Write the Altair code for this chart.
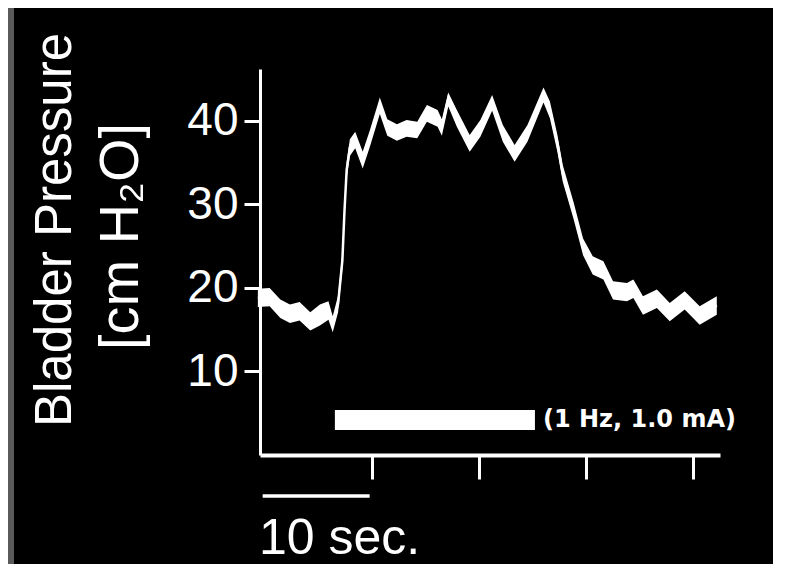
import altair as alt
import pandas as pd

# time (s) and bladder pressure band (cm H2O)
time_s = [-0.7, 0.4, 1.4, 2.3, 3.2, 4.2, 5.1, 5.9, 6.3, 6.8, 7.2, 7.4, 7.6, 7.9, 8.4,
          9.1, 9.8, 10.7, 11.4, 12.3, 13.2, 14.2, 15.1, 16.1, 16.5, 17.1, 17.9, 19.1,
          20.1, 21.2, 22.2, 23.3, 24.5, 26.0, 26.6, 27.3, 27.8, 28.8, 29.7, 30.6, 31.6,
          32.5, 33.8, 34.4, 35.3, 36.6, 37.8, 39.2, 40.6, 42.2]
pressure_mid = [18.8, 18.9, 17.5, 16.9, 17.2, 16.0, 16.8, 17.3, 15.6, 18.1, 23.3, 29.3,
                34.1, 36.8, 37.7, 35.3, 38.0, 41.9, 39.2, 38.6, 39.1, 38.9, 40.9, 40.3,
                39.2, 42.7, 40.3, 37.3, 39.1, 42.2, 38.5, 36.1, 38.5, 43.2, 41.3, 37.3,
                33.7, 29.3, 24.9, 22.7, 22.1, 19.7, 19.5, 19.9, 17.9, 18.7, 17.1, 18.5,
                16.7, 17.9]
pressure_hi = [19.9, 20.0, 18.6, 18.0, 18.3, 17.1, 18.0, 18.4, 16.6, 19.1, 24.3, 30.3,
               35.1, 37.8, 38.7, 36.3, 39.0, 42.8, 40.2, 39.6, 40.1, 39.9, 41.9, 41.3,
               40.2, 43.4, 41.3, 38.3, 40.1, 43.1, 39.5, 37.1, 39.5, 44.0, 42.3, 38.3,
               34.7, 30.3, 25.9, 23.8, 23.2, 20.8, 20.6, 21.0, 19.0, 19.8, 18.2, 19.6,
               17.8, 19.0]
pressure_lo = [17.7, 17.8, 16.4, 15.8, 16.1, 14.9, 15.5, 16.2, 14.7, 17.1, 22.3, 28.3,
               33.1, 35.8, 36.7, 34.3, 37.0, 40.8, 38.2, 37.6, 38.1, 37.9, 39.9, 39.3,
               38.2, 41.7, 39.3, 36.3, 38.1, 41.2, 37.5, 35.1, 37.5, 42.2, 40.3, 36.3,
               32.7, 28.3, 23.9, 21.6, 21.0, 18.6, 18.4, 18.8, 16.8, 17.6, 16.0, 17.4,
               15.6, 16.8]

y_ticks = [10, 20, 30, 40]
x_ticks = [10, 20, 30, 40]

stim_start, stim_end = 6.5, 25.2
stim_lo, stim_hi = 3.0, 5.4
stim_label = "(1 Hz, 1.0 mA)"
stim_label_t, stim_label_y = 25.95, 4.2

bar_start, bar_end, bar_y = -0.25, 9.75, -4.9
bar_label = "10 sec."
bar_label_t, bar_label_y = -0.6, -11.8

title1 = "Bladder Pressure"
title2 = "[cm H₂O]"

WHITE = "#ffffff"
FONT = "Liberation Sans"

df = pd.DataFrame({"t": time_s, "mid": pressure_mid, "hi": pressure_hi, "lo": pressure_lo})

xs = alt.Scale(domain=[-0.5, 42.5], nice=False, zero=False)
ys = alt.Scale(domain=[0, 46.2], nice=False, zero=False)

x_axis = alt.Axis(values=x_ticks, labels=False, title=None, grid=False,
                  domainColor=WHITE, domainWidth=4, tickColor=WHITE, tickWidth=3,
                  tickSize=24)
y_axis = alt.Axis(values=y_ticks, title=None, grid=False, domainColor=WHITE,
                  domainWidth=3, tickColor=WHITE, tickWidth=3, tickSize=16,
                  labelColor=WHITE, labelFontSize=46, labelFont=FONT, labelPadding=6)

band = alt.Chart(df).mark_area(color=WHITE, opacity=1).encode(
    x=alt.X("t:Q", scale=xs, axis=x_axis),
    y=alt.Y("lo:Q", scale=ys, axis=y_axis),
    y2="hi:Q",
)
line = alt.Chart(df).mark_line(color=WHITE, strokeWidth=2.5).encode(
    x=alt.X("t:Q", scale=xs),
    y=alt.Y("mid:Q", scale=ys),
)

stim_df = pd.DataFrame({"a": [stim_start], "b": [stim_end], "lo": [stim_lo], "hi": [stim_hi],
                        "lt": [stim_label_t], "ly": [stim_label_y], "label": [stim_label]})
stim = alt.Chart(stim_df).mark_rect(color=WHITE).encode(
    x=alt.X("a:Q", scale=xs), x2="b:Q",
    y=alt.Y("lo:Q", scale=ys), y2="hi:Q",
)
stim_text = alt.Chart(stim_df).mark_text(
    color=WHITE, font="DejaVu Sans", fontWeight="bold", fontSize=24,
    align="left", baseline="middle",
).encode(x=alt.X("lt:Q", scale=xs), y=alt.Y("ly:Q", scale=ys), text="label:N")

bar_df = pd.DataFrame({"a": [bar_start], "b": [bar_end], "y": [bar_y],
                       "lt": [bar_label_t], "ly": [bar_label_y], "label": [bar_label]})
scale_bar = alt.Chart(bar_df).mark_rule(color=WHITE, strokeWidth=3.5).encode(
    x=alt.X("a:Q", scale=xs), x2="b:Q", y=alt.Y("y:Q", scale=ys),
)
scale_text = alt.Chart(bar_df).mark_text(
    color=WHITE, font=FONT, fontSize=50, align="left", baseline="alphabetic",
).encode(x=alt.X("lt:Q", scale=xs), y=alt.Y("ly:Q", scale=ys), text="label:N")

title_df = pd.DataFrame({"one": [title1], "two": [title2]})
t1 = alt.Chart(title_df).mark_text(
    color=WHITE, font=FONT, fontSize=51, angle=270, align="center", baseline="alphabetic",
).encode(x=alt.value(-189), y=alt.value(161), text="one:N")
t2 = alt.Chart(title_df).mark_text(
    color=WHITE, font=FONT, fontSize=56, angle=270, align="center", baseline="alphabetic",
).encode(x=alt.value(-122), y=alt.value(167.5), text="two:N")

strip = alt.Chart(title_df).mark_rect(color="#5a5a5a").encode(
    x=alt.value(-252), x2=alt.value(-246), y=alt.value(-61), y2=alt.value(496),
)

chart = alt.layer(strip, band, line, stim, stim_text, scale_bar, scale_text, t1, t2).properties(
    width=460, height=386,
    autosize=alt.AutoSizeParams(type="none"),
    padding={"left": 252, "top": 61, "right": 53, "bottom": 109},
    background="#000000",
).configure_view(stroke=None)

chart.save("out.html", embed_options={"renderer": "svg", "actions": False})
